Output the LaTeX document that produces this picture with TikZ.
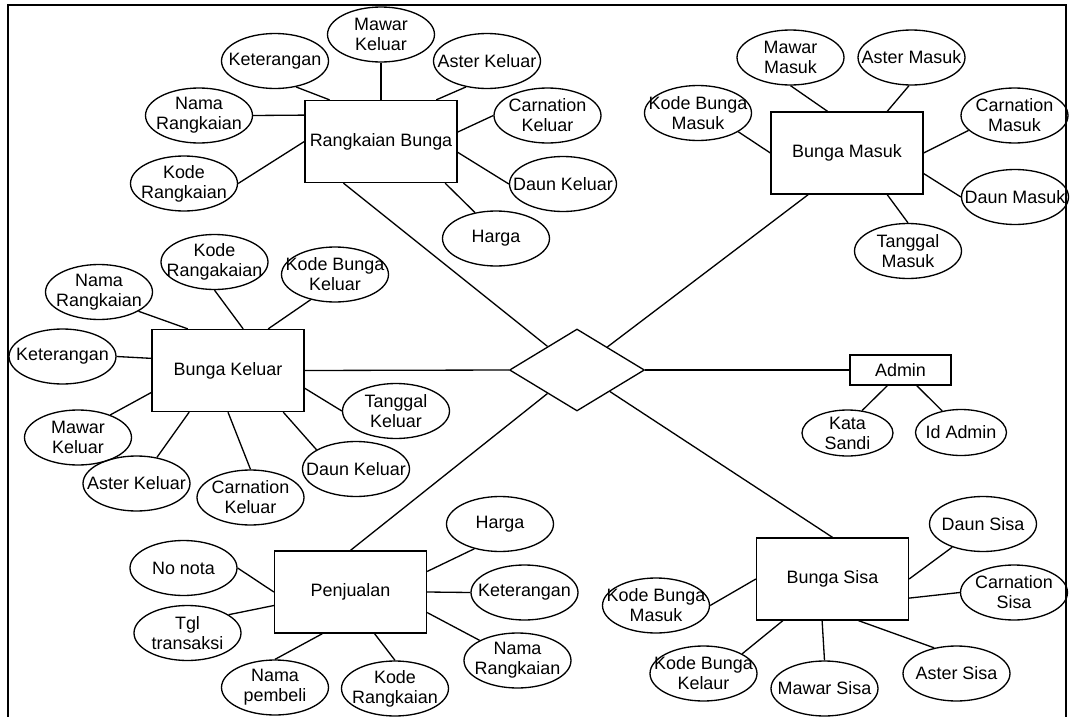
\documentclass[tikz,border=0pt]{standalone}
\usepackage{fontspec}
\setmainfont{Liberation Sans}
\usepackage{tikz}
\usetikzlibrary{shapes.geometric}

\begin{document}
\begin{tikzpicture}[
        x=0.02cm, y=-0.02cm,
        font=\fontsize{10.2}{11.4}\selectfont,
        entity/.style={
            draw,
            line width=0.75pt,
            minimum width=3.04cm,
            minimum height=1.64cm,
            inner sep=0pt,
            align=center
        },
        attr/.style={
            draw, ellipse,
            line width=0.75pt,
            minimum width=2.14cm,
            minimum height=1.1cm,
            inner xsep=-0.5cm, inner ysep=-0.2cm,
            align=center
        },
        smallattr/.style={attr, minimum width=1.82cm, minimum height=0.92cm},
        rel/.style={draw, diamond, line width=0.75pt, minimum width=2.7cm, minimum height=1.64cm, inner sep=0pt},
        line/.style={line width=0.75pt}
    ]
        \useasboundingbox (0,0) rectangle (1073,717);
        \draw[line width=1.2pt] (8,717) -- (8,5) -- (1066,5) -- (1066,717);

        \node[rel] (dia) at (577,370) {};
        \node[entity] (rb) at (381,141.5) {Rangkaian Bunga};
        \node[entity] (bm) at (847,153) {Bunga Masuk};
        \node[entity] (bk) at (228,370.5) {Bunga Keluar};
        \node[entity] (pj) at (350.5,592) {Penjualan};
        \node[entity] (bs) at (832.5,579) {Bunga Sisa};
        \node[entity, minimum width=2.02cm, minimum height=0.6cm] (adm) at (900.5,370) {Admin};

        \node[attr] (rbket) at (275,61) {Keterangan};
        \node[attr] (rbmawar) at (381,34.5) {Mawar\\Keluar};
        \node[attr] (rbaster) at (487,61) {Aster Keluar};
        \node[attr] (rbnama) at (199,115.5) {Nama\\Rangkaian};
        \node[attr] (rbkode) at (184,183.5) {Kode\\Rangkaian};
        \node[attr] (rbcarn) at (547.5,115.5) {Carnation\\Keluar};
        \node[attr] (rbdaun) at (563,184) {Daun Keluar};
        \node[attr] (rbharga) at (496,238.5) {Harga};

        \node[attr] (bmkode) at (698,113) {Kode Bunga\\Masuk};
        \node[attr] (bmmawar) at (790.5,57.5) {Mawar\\Masuk};
        \node[attr] (bmaster) at (911.5,57.5) {Aster Masuk};
        \node[attr] (bmcarn) at (1014.5,115.5) {Carnation\\Masuk};
        \node[attr] (bmdaun) at (1015,197) {Daun Masuk};
        \node[attr] (bmtgl) at (908,251) {Tanggal\\Masuk};

        \node[attr] (bknama) at (99,292) {Nama\\Rangkaian};
        \node[attr] (bkkode) at (214.5,262) {Kode\\Rangakaian};
        \node[attr] (bkbunga) at (335,274.5) {Kode Bunga\\Keluar};
        \node[attr] (bkket) at (62.5,356.5) {Keterangan};
        \node[attr] (bkmawar) at (78,437.5) {Mawar\\Keluar};
        \node[attr] (bkaster) at (136.5,483.5) {Aster Keluar};
        \node[attr] (bkcarn) at (250.5,497.5) {Carnation\\Keluar};
        \node[attr] (bkdaun) at (356,469) {Daun Keluar};
        \node[attr] (bktgl) at (396,411) {Tanggal\\Keluar};

        \node[smallattr] (admsandi) at (847.5,433) {Kata\\Sandi};
        \node[smallattr] (admid) at (961,432.5) {Id Admin};

        \node[attr] (pjnota) at (183.5,568) {No nota};
        \node[attr] (pjtgl) at (187.5,633) {Tgl\\transaksi};
        \node[attr] (pjpembeli) at (275,687.5) {Nama\\pembeli};
        \node[attr] (pjkode) at (395,688.5) {Kode\\Rangkaian};
        \node[attr] (pjharga) at (500,524) {Harga};
        \node[attr] (pjket) at (524.5,592.5) {Keterangan};
        \node[attr] (pjnama) at (517.5,660.5) {Nama\\Rangkaian};

        \node[attr] (bsdaun) at (983,524) {Daun Sisa};
        \node[attr] (bscarn) at (1014,592.5) {Carnation\\Sisa};
        \node[attr] (bsaster) at (956.5,673.5) {Aster Sisa};
        \node[attr] (bsmawar) at (824.5,688.5) {Mawar Sisa};
        \node[attr] (bskeluar) at (703.5,673.5) {Kode Bunga\\Kelaur};
        \node[attr] (bsmasuk) at (656,605.5) {Kode Bunga\\Masuk};

        \draw[line] (rb.-132) -- (dia);
        \draw[line] (bm.-133) -- (dia);
        \draw[line] (bk.east) -- (dia.west);
        \draw[line] (pj.north) -- (dia);
        \draw[line] (bs.north) -- (dia);
        \draw[line] (dia.east) -- (adm.west);

        \draw[line] (rbket.-51) -- (rb.141);
        \draw[line] (rbmawar.south) -- (rb.north);
        \draw[line] (rbaster.-129) -- (rb.37.5);
        \draw[line] (rbnama.0) -- (rb.161);
        \draw[line] (rbkode.0) -- (rb.180);
        \draw[line] (rbcarn.180) -- (rb.7);
        \draw[line] (rbdaun.180) -- (rb.-8);
        \draw[line] (rbharga.129.5) -- (rb.-33.4);

        \draw[line] (bmmawar.south) -- (bm.115);
        \draw[line] (bmaster.-95) -- (bm.46.4);
        \draw[line] (bmkode.-25) -- (bm.180);
        \draw[line] (bmcarn.198) -- (bm.0);
        \draw[line] (bmdaun.180) -- (bm.-15.4);
        \draw[line] (bmtgl.north) -- (bm.-46.4);

        \draw[line] (bknama.-26) -- (bk.134);
        \draw[line] (bkkode.south) -- (bk.70);
        \draw[line] (bkbunga.-134) -- (bk.46.8);
        \draw[line] (bkket.0) -- (bk.171.4);
        \draw[line] (bkmawar.35) -- (bk.196);
        \draw[line] (bkaster.52) -- (bk.-133);
        \draw[line] (bkcarn.north) -- (bk.south);
        \draw[line] (bkdaun.154) -- (bk.-37);
        \draw[line] (bktgl.180) -- (bk.-13.7);

        \draw[line] (admsandi.57) -- (adm.-130);
        \draw[line] (admid.131.6) -- (adm.-44);

        \draw[line] (pjnota.0) -- (pj.180);
        \draw[line] (pjtgl.24) -- (pj.-170);
        \draw[line] (pjpembeli.north) -- (pj.-124.8);
        \draw[line] (pjkode.north) -- (pj.-60.2);
        \draw[line] (pjharga.-136) -- (pj.15.5);
        \draw[line] (pjket.180) -- (pj.0);
        \draw[line] (pjnama.152.5) -- (pj.-15.5);

        \draw[line] (bsdaun.217.5) -- (bs.0);
        \draw[line] (bscarn.180) -- (bs.-14);
        \draw[line] (bsaster.131) -- (bs.-58);
        \draw[line] (bsmawar.north) -- (bs.-104);
        \draw[line] (bskeluar.27.4) -- (bs.-140.4);
        \draw[line] (bsmasuk.0) -- (bs.180);
    \end{tikzpicture}
\end{document}
